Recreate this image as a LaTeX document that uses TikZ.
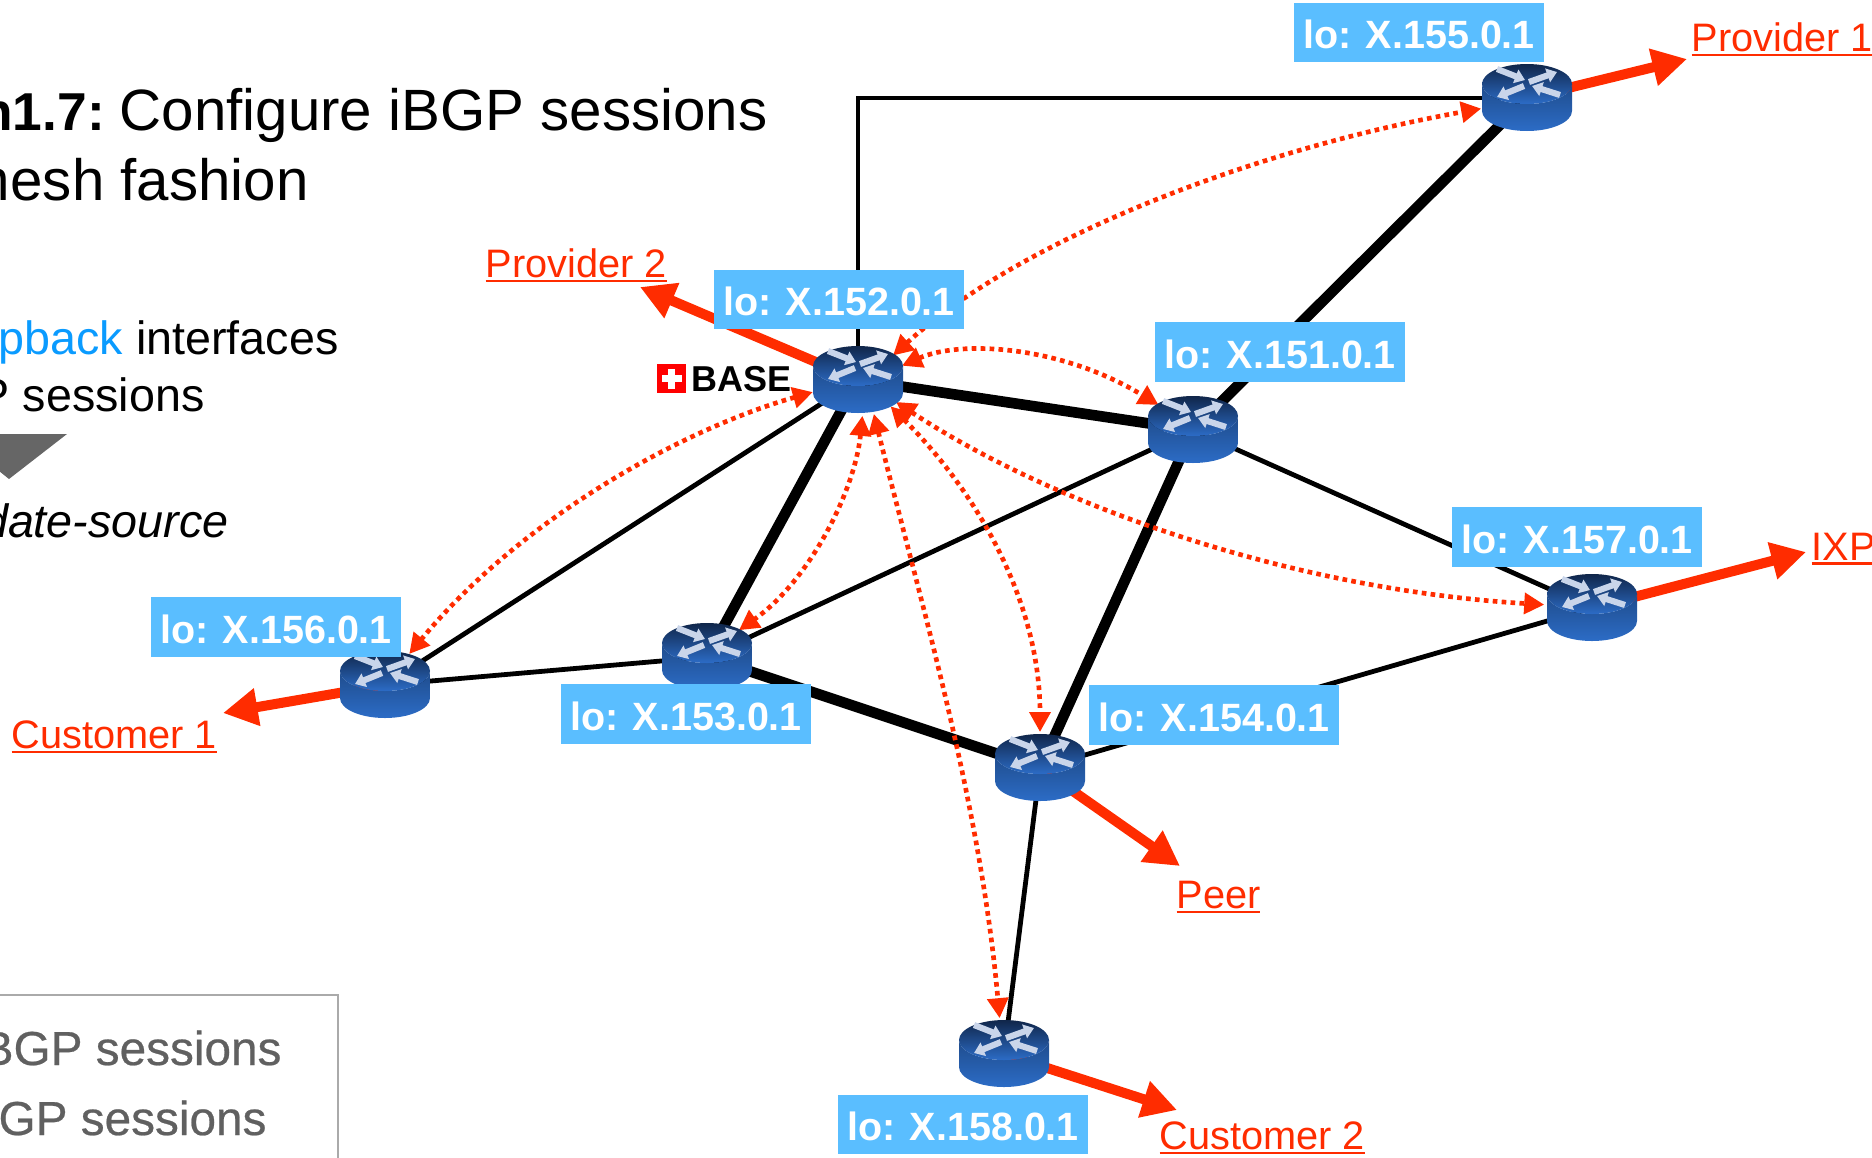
\documentclass[tikz,border=0pt]{standalone}
\usepackage{fontspec}
\usetikzlibrary{arrows.meta,shapes.geometric}
\setmainfont{Liberation Sans}
\newfontfamily\legendfont[FakeBold=0.5]{Liberation Sans}
\newcommand{\linelabel}[1]{\leavevmode\vtop{\hbox{#1}\kern1.6pt\hrule height 1.8pt}}

\definecolor{linkred}{RGB}{255,44,0}
\definecolor{lobox}{RGB}{90,190,255}
\definecolor{loopblue}{RGB}{10,155,255}
\definecolor{legendgray}{RGB}{96,96,96}
\definecolor{legendline}{RGB}{170,170,170}
\definecolor{wedgegray}{RGB}{102,102,102}
\definecolor{rtrdark}{RGB}{16,38,74}
\definecolor{rtrside}{RGB}{31,76,140}
\definecolor{rtrblue}{RGB}{44,108,198}
\definecolor{rtrarrow}{RGB}{201,213,234}

\tikzset{every picture/.style={line width=0.75pt}}
\tikzset{
  routerspot/.style={shape=ellipse,minimum width=72pt,minimum height=54pt,inner sep=0pt,outer sep=0pt},
  thinlink/.style={line width=3.6pt},
  thicklink/.style={line width=8pt},
  session/.style={linkred,line width=3.5pt,dash pattern={on 3.5pt off 3.2pt},{Triangle[length=15pt,width=15.5pt]}-{Triangle[length=15pt,width=15.5pt]}},
  external/.style={linkred,line width=7.5pt,-{Triangle[length=26pt,width=27pt]}},
  lolabel/.style={fill=lobox,text=white,minimum width=187.5pt,minimum height=44.5pt,inner sep=0pt,text height=24pt,text depth=0pt,font=\fontsize{29.6}{36}\selectfont\bfseries},
  extlabel/.style={anchor=base west,inner sep=0pt,text=linkred,font=\fontsize{29.8}{36}\selectfont},
  slidetext/.style={anchor=base east,inner sep=0pt},
  rtrstroke/.style={rtrarrow,line width=4.6pt,-{Triangle[length=7.5pt,width=10.5pt]}},
  pics/routericon/.style={code={
    \begin{scope}[yscale=-1]
    \shade [top color=rtrside,bottom color=rtrblue] (-45,-14) -- (-45,13) arc [start angle=180,end angle=0,x radius=45,y radius=20] -- (45,-14) arc [start angle=0,end angle=180,x radius=45,y radius=20] -- cycle ;
    \shade [top color=rtrdark,bottom color=rtrblue] (0,-14) ellipse [x radius=45,y radius=20] ;
    \draw [rtrstroke] (-30,-29) -- (-2,-18) ;
    \draw [rtrstroke] (2,-16) -- (30,-26) ;
    \draw [rtrstroke] (-3,-12) -- (-30,-1) ;
    \draw [rtrstroke] (33,-3) -- (5,-12) ;
    \end{scope}
  }}
}

\begin{document}
\begin{tikzpicture}[x=0.75pt,y=0.75pt,yscale=-1,xscale=1]
\useasboundingbox (0,0) rectangle (1872,1157);
\clip (0,0) rectangle (1872,1157);

% Routers (the icons come later, above the links)
\node [routerspot] (r155) at (1527,98) {};
\node [routerspot] (r152) at (858,380) {};
\node [routerspot] (r151) at (1193,430) {};
\node [routerspot] (r157) at (1592,608) {};
\node [routerspot] (r156) at (385,685) {};
\node [routerspot] (r153) at (707,657) {};
\node [routerspot] (r154) at (1040,768) {};
\node [routerspot] (r158) at (1004,1054) {};

% Free ends of the external links
\coordinate (tipprovider1) at (1687,59);
\coordinate (tipprovider2) at (640,287);
\coordinate (tipixp) at (1806,552);
\coordinate (tipcustomer1) at (223,713);
\coordinate (tippeer) at (1180,866);
\coordinate (tipcustomer2) at (1177,1110);

% Text Node
\node [slidetext,font=\fontsize{43.7}{53}\selectfont] (title1) at (768,130) {{\fontsize{40}{48}\selectfont\bfseries n1.7:}\hspace{-5pt} Configure iBGP sessions};
% Text Node
\node [slidetext,font=\fontsize{43.7}{53}\selectfont] (title2) at (309,200) {mesh fashion};
% Text Node
\node [slidetext,font=\fontsize{35}{42}\selectfont] (bullet1) at (339,354) {\textcolor{loopblue}{pback} interfaces};
% Text Node
\node [slidetext,font=\fontsize{35}{42}\selectfont] (bullet2) at (205,411) {P sessions};
% Text Node
\node [slidetext,font=\fontsize{35}{42}\selectfont\itshape] (bullet3) at (229,537) {date-source};
% Text Node
\node [slidetext,text=legendgray,font=\fontsize{35.8}{42}\selectfont\legendfont] (legend1) at (282,1065) {BGP sessions};
% Text Node
\node [slidetext,text=legendgray,font=\fontsize{35.8}{42}\selectfont\legendfont] (legend2) at (267,1135) {GP sessions};

%Shape: Triangle
\fill [wedgegray] (-47,434) -- (67,434) -- (9,479) -- cycle ;
%Straight Lines
\draw [legendline,line width=1.5pt] (-5,995) -- (338,995) -- (338,1162) ;

%Straight Lines
\draw [thinlink] (r152.center) |- (r155.center) ;
\draw [thicklink] (r155.center) -- (r151.center) ;
\draw [thicklink] (r152.center) -- (r151.center) ;
\draw [thinlink] (r152.center) -- (r156.center) ;
\draw [thicklink] (r152.center) -- (r153.center) ;
\draw [thinlink] (r153.center) -- (r156.center) ;
\draw [thinlink] (r153.center) -- (r151.center) ;
\draw [thicklink] (r153.center) -- (r154.center) ;
\draw [thicklink] (r151.center) -- (r154.center) ;
\draw [thinlink] (r151.center) -- (r157.center) ;
\draw [thinlink] (r154.center) -- (r157.center) ;
\draw [thinlink] (r154.center) -- (r158.center) ;

%Curve Lines
\draw [session] (r152.35) .. controls (1020,240) and (1250,150) .. (r155.193) ;
\draw [session] (r152.18) .. controls (960,340) and (1060,345) .. (r151.144) ;
\draw [session] (r152.195) .. controls (680,430) and (520,520) .. (r156.52) ;
\draw [session] (r152.277) .. controls (855,490) and (810,580) .. (r153.40) ;
\draw [session] (r152.295) .. controls (920,600) and (980,800) .. (r158.97) ;
\draw [session] (r152.321) .. controls (975,490) and (1040,600) .. (r154.90) ;
\draw [session] (r152.330) .. controls (1060,510) and (1300,590) .. (r157.176) ;

%Straight Lines
\draw [external] (r155.center) -- (tipprovider1) ;
\draw [external] (r152.center) -- (tipprovider2) ;
\draw [external] (r157.center) -- (tipixp) ;
\draw [external] (r156.center) -- (tipcustomer1) ;
\draw [external] (r154.center) -- (tippeer) ;
\draw [external] (r158.center) -- (tipcustomer2) ;

% Router icons
\pic at (r155.center) {routericon};
\pic at (r152.center) {routericon};
\pic at (r151.center) {routericon};
\pic at (r157.center) {routericon};
\pic at (r156.center) {routericon};
\pic at (r153.center) {routericon};
\pic at (r154.center) {routericon};
\pic at (r158.center) {routericon};

% Text Node
\node [lolabel] (lo155) at (1419,32.5) {lo: X.155.0.1};
% Text Node
\node [lolabel] (lo152) at (839,299.5) {lo: X.152.0.1};
% Text Node
\node [lolabel] (lo151) at (1280,352) {lo: X.151.0.1};
% Text Node
\node [lolabel] (lo157) at (1577,537) {lo: X.157.0.1};
% Text Node
\node [lolabel] (lo156) at (276,627) {lo: X.156.0.1};
% Text Node
\node [lolabel] (lo153) at (686,714) {lo: X.153.0.1};
% Text Node
\node [lolabel] (lo154) at (1214,715) {lo: X.154.0.1};
% Text Node
\node [lolabel] (lo158) at (963,1124.5) {lo: X.158.0.1};

% Text Node
\node [extlabel] (provider1) at (1691,51) {\linelabel{Provider 1}};
% Text Node
\node [extlabel] (provider2) at (485,277) {\linelabel{Provider 2}};
% Text Node
\node [extlabel] (ixp) at (1811,560) {\linelabel{IXP}};
% Text Node
\node [extlabel] (customer1) at (11,748) {\linelabel{Customer 1}};
% Text Node
\node [extlabel] (peer) at (1176,908) {\linelabel{Peer}};
% Text Node
\node [extlabel] (customer2) at (1159,1149) {\linelabel{Customer 2}};

% Logo
\node [fill={rgb,255:red,255;green,0;blue,0},minimum size=21.75pt,inner sep=0pt] (logo) at (671.5,378.5) {};
\fill [white] (661.5,375) rectangle (681.5,382) ;
\fill [white] (668,368.5) rectangle (675,388.5) ;
% Text Node
\node [anchor=base west,inner sep=0pt,font=\fontsize{27}{32}\selectfont\bfseries] (base) at (691,391) {BASE};

\end{tikzpicture}
\end{document}
